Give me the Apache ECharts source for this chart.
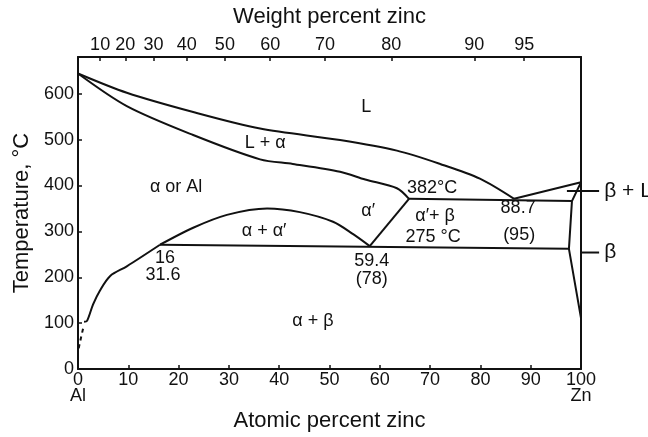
<!DOCTYPE html>
<html>
<head>
<meta charset="utf-8">
<script src="https://cdn.jsdelivr.net/npm/echarts@6/dist/echarts.min.js"></script>
<style>
html,body{margin:0;padding:0;background:#fff;}
#chart{width:648px;height:437px;}
</style>
</head>
<body>
<div id="chart"></div>
<script>
// Atomic percent zinc ticks (bottom) and weight percent zinc ticks (top)
const atomicTicks = [0, 10, 20, 30, 40, 50, 60, 70, 80, 90, 100];
const weightTickLabels = [10, 20, 30, 40, 50, 60, 70, 80, 90, 95];
const weightTickAtomicPos = [4.4, 9.4, 15.0, 21.6, 29.2, 38.2, 49.1, 62.3, 78.8, 88.7];
const tempTicks = [0, 100, 200, 300, 400, 500, 600];

// Phase boundaries: [atomic % Zn, temperature °C]
const liquidus = [[0,644],[9.7,602],[22.9,560],[36.2,524],[52.1,499],[63.4,476],[72.0,447],[79.9,415],[86.7,371]];
const solidus = [[0,644],[9.7,573],[22.9,510],[36.2,457],[42.7,447],[52.1,430],[57.1,413],[63.4,394],[65.8,371]];
const eutecticLine = [[65.8,371],[98.2,366]];
const betaLiquidus = [[86.7,371],[100,407]];
const betaSolidus = [[100,407],[98.2,366],[97.6,262],[100,111]];
const eutectoidLine = [[16.3,271],[97.6,262]];
const gapDome = [[16.3,271],[22.9,308],[29.6,336],[37.6,350],[44.1,342],[50.7,321],[54.7,294],[58.0,268]];
const alphaPrimeBoundary = [[58.0,268],[65.8,371]];
const alphaSolvus = [[16.3,271],[9.7,224],[6.4,203],[4.4,172],[3.0,141],[1.8,105],[1.2,103]];
const alphaSolvusDashed = [[1.0,88],[0.4,59],[0,38]];
// Pointer lines to the labels right of the frame: [x1, T1, x2, T2]
const pointerLines = [[97.2,388,103.6,388],[100,254,103.6,254]];

// Annotations: [atomic % Zn, temperature °C, text]
const regionLabels = [
  [57.3,571,'L'],
  [37.2,493,'L + α'],
  [19.5,396,'α or Al'],
  [70.4,394,'382°C'],
  [57.7,344,'α′'],
  [71.0,334,'α′+ β'],
  [87.5,350,'88.7'],
  [37.0,300,'α + α′'],
  [70.6,287,'275 °C'],
  [87.7,292,'(95)'],
  [17.3,243,'16'],
  [16.9,206,'31.6'],
  [58.4,235,'59.4'],
  [58.4,197,'(78)'],
  [46.7,105,'α + β']
];
const sideLabels = [
  [104.6,388,'β + L'],
  [104.6,254,'β']
];

const FONT = 'Liberation Sans, Arial, Helvetica, sans-serif';
const INK = '#111111';

function lineSeries(data, smooth, dashed) {
  return {
    type: 'line', data: data, xAxisIndex: 0, yAxisIndex: 0,
    showSymbol: false, symbol: 'none', smooth: smooth || false, clip: false,
    silent: true, animation: false,
    lineStyle: { color: INK, width: 2, type: dashed ? [4, 4] : 'solid' }
  };
}

function labelSeries(rows, size, align) {
  return {
    type: 'scatter', xAxisIndex: 0, yAxisIndex: 0, clip: false, silent: true,
    symbolSize: 1, itemStyle: { opacity: 0 },
    data: rows.map(function (d) { return { value: [d[0], d[1]], name: d[2] }; }),
    label: {
      show: true, position: 'inside', opacity: 1,
      formatter: function (p) { return p.name; },
      fontFamily: FONT, fontSize: size, color: INK, align: align, verticalAlign: 'middle'
    }
  };
}

const chart = echarts.init(document.getElementById('chart'), null, { renderer: 'canvas' });
const option = {
  backgroundColor: '#fff',
  animation: false,
  grid: { left: 78, right: 67, top: 57, bottom: 57, containLabel: false },
  xAxis: [
    {
      type: 'value', position: 'bottom', min: 0, max: 100, interval: 10,
      name: 'Atomic percent zinc', nameLocation: 'middle', nameGap: 31,
      nameTextStyle: { fontFamily: FONT, fontSize: 22, color: INK },
      axisLine: { show: true, onZero: false, lineStyle: { color: INK, width: 2 } },
      axisTick: { show: true, inside: true, length: 4, lineStyle: { color: INK, width: 1.5 } },
      axisLabel: {
        fontFamily: FONT, fontSize: 18, color: INK, margin: 3, lineHeight: 16,
        formatter: function (v) {
          if (v === 0) return '0\nAl';
          if (v === 100) return '100\nZn';
          return atomicTicks.indexOf(v) >= 0 ? String(v) : '';
        }
      },
      splitLine: { show: false }
    },
    {
      type: 'value', position: 'top', min: 0, max: 100,
      name: 'Weight percent zinc', nameLocation: 'middle', nameGap: 29,
      nameTextStyle: { fontFamily: FONT, fontSize: 22, color: INK },
      axisLine: { show: true, onZero: false, lineStyle: { color: INK, width: 2 } },
      axisTick: { show: true, inside: true, length: 4, customValues: weightTickAtomicPos, lineStyle: { color: INK, width: 1.5 } },
      axisLabel: {
        fontFamily: FONT, fontSize: 18, color: INK, margin: 3,
        customValues: weightTickAtomicPos,
        formatter: function (v) {
          let best = -1, bd = 1e9;
          for (let i = 0; i < weightTickAtomicPos.length; i++) {
            const d = Math.abs(weightTickAtomicPos[i] - v);
            if (d < bd) { bd = d; best = i; }
          }
          return bd < 0.05 ? String(weightTickLabels[best]) : '';
        }
      },
      splitLine: { show: false }
    }
  ],
  yAxis: [
    {
      type: 'value', position: 'left', min: 0, max: 680, interval: 100,
      name: 'Temperature, °C', nameLocation: 'middle', nameGap: 45,
      nameTextStyle: { fontFamily: FONT, fontSize: 22, color: INK },
      axisLine: { show: true, onZero: false, lineStyle: { color: INK, width: 2 } },
      axisTick: { show: true, inside: true, length: 4, lineStyle: { color: INK, width: 1.5 } },
      axisLabel: {
        fontFamily: FONT, fontSize: 18, color: INK, margin: 4, showMaxLabel: false,
        formatter: function (v) { return tempTicks.indexOf(v) >= 0 ? String(v) : ''; }
      },
      splitLine: { show: false }
    },
    {
      type: 'value', position: 'right', min: 0, max: 680,
      axisLine: { show: true, onZero: false, lineStyle: { color: INK, width: 2 } },
      axisTick: { show: false }, axisLabel: { show: false }, splitLine: { show: false }
    }
  ],
  series: [
    lineSeries(liquidus, 0.3),
    lineSeries(solidus, 0.3),
    lineSeries(eutecticLine),
    lineSeries(betaLiquidus),
    lineSeries(betaSolidus),
    lineSeries(eutectoidLine),
    lineSeries(gapDome, 0.3),
    lineSeries(alphaPrimeBoundary),
    lineSeries(alphaSolvus, 0.3),
    lineSeries(alphaSolvusDashed, false, true),
    {
      type: 'custom', xAxisIndex: 0, yAxisIndex: 0, clip: false, silent: true,
      data: pointerLines,
      encode: { x: [0, 2], y: [1, 3] },
      renderItem: function (params, api) {
        const p0 = api.coord([api.value(0), api.value(1)]);
        const p1 = api.coord([api.value(2), api.value(3)]);
        return {
          type: 'line',
          shape: { x1: p0[0], y1: p0[1], x2: p1[0], y2: p1[1] },
          style: { stroke: INK, lineWidth: 2 }
        };
      }
    },
    labelSeries(regionLabels, 18, 'center'),
    labelSeries(sideLabels, 21, 'left')
  ]
};
chart.setOption(option);
</script>
</body>
</html>
